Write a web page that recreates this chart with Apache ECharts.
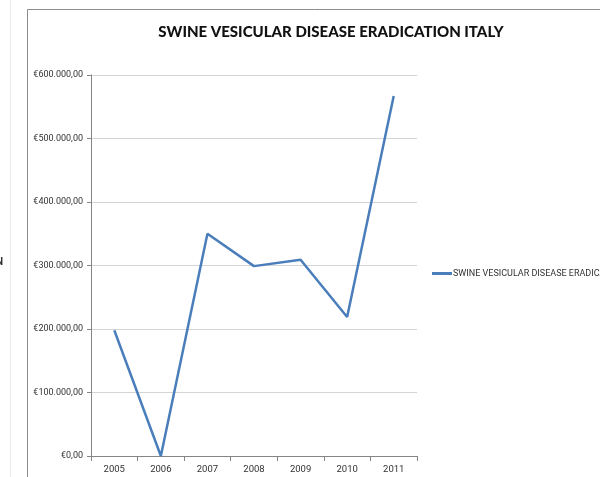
<!DOCTYPE html>
<html>
<head>
<meta charset="utf-8">
<style>
  html, body { margin: 0; padding: 0; background: #ffffff; }
  #chart { width: 600px; height: 477px; }
</style>
<script src="https://cdn.jsdelivr.net/npm/echarts@6/dist/echarts.min.js"></script>
</head>
<body>
<div id="chart"></div>
<script>
// Yearly cost of swine vesicular disease eradication in Italy (EUR)
const years = ['2005', '2006', '2007', '2008', '2009', '2010', '2011'];
const costs = [198000, 0, 350000, 299000, 309000, 219000, 567000];
const seriesName = 'SWINE VESICULAR DISEASE ERADICATION ITALY';
const chartTitle = 'SWINE VESICULAR DISEASE ERADICATION ITALY';
const yTicks = { min: 0, max: 600000, step: 100000 };

// Euro amounts in Italian notation: €300.000,00
function euro(v) {
  const whole = Math.round(v).toString().replace(/\B(?=(\d{3})+(?!\d))/g, '.');
  return '€' + whole + ',00';
}

const labelFont = "Roboto, sans-serif";

const chart = echarts.init(document.getElementById('chart'), null, { renderer: 'canvas' });
chart.setOption({
  backgroundColor: '#ffffff',
  animation: false,
  title: {
    text: chartTitle,
    left: 326,
    top: 20,
    textAlign: 'center',
    textStyle: { fontFamily: 'Lato', fontWeight: 900, fontSize: 15, color: '#111111' }
  },
  legend: {
    left: 432,
    top: 269,
    padding: 0,
    icon: 'rect',
    itemWidth: 20,
    itemHeight: 3,
    itemGap: 0,
    textStyle: { fontFamily: labelFont, fontSize: 9, color: '#333333', padding: [0, 0, 0, -4] },
    data: [seriesName]
  },
  graphic: [
    { type: 'line', shape: { x1: 10.5, y1: 0, x2: 10.5, y2: 477 }, style: { stroke: '#ececec', lineWidth: 1 } },
    { type: 'rect', shape: { x: 27.5, y: 9.5, width: 700, height: 600 }, style: { fill: 'none', stroke: '#8c8c8c', lineWidth: 1 } },
    { type: 'text', left: -4, top: 257, style: { text: 'N', font: 'bold 10px ' + labelFont, fill: '#333333' } }
  ],
  grid: { left: 91, right: 183, top: 75, bottom: 21, containLabel: false },
  xAxis: {
    type: 'category',
    data: years,
    boundaryGap: true,
    axisLine: { lineStyle: { color: '#868686', width: 1 } },
    axisTick: { show: true, alignWithLabel: false, length: 5, lineStyle: { color: '#868686' } },
    axisLabel: { fontFamily: labelFont, fontSize: 9.5, color: '#333333', margin: 9 }
  },
  yAxis: {
    type: 'value',
    min: yTicks.min,
    max: yTicks.max,
    interval: yTicks.step,
    axisLine: { show: true, lineStyle: { color: '#868686', width: 1 } },
    axisTick: { show: true, length: 4, lineStyle: { color: '#868686' } },
    axisLabel: { fontFamily: labelFont, fontSize: 9, color: '#333333', margin: 8, formatter: euro },
    splitLine: { lineStyle: { color: '#d4d4d4', width: 1 } }
  },
  series: [{
    name: seriesName,
    type: 'line',
    data: costs,
    symbol: 'none',
    lineStyle: { color: '#4a7ebb', width: 2.5 },
    itemStyle: { color: '#4a7ebb' }
  }]
});
</script>
</body>
</html>
